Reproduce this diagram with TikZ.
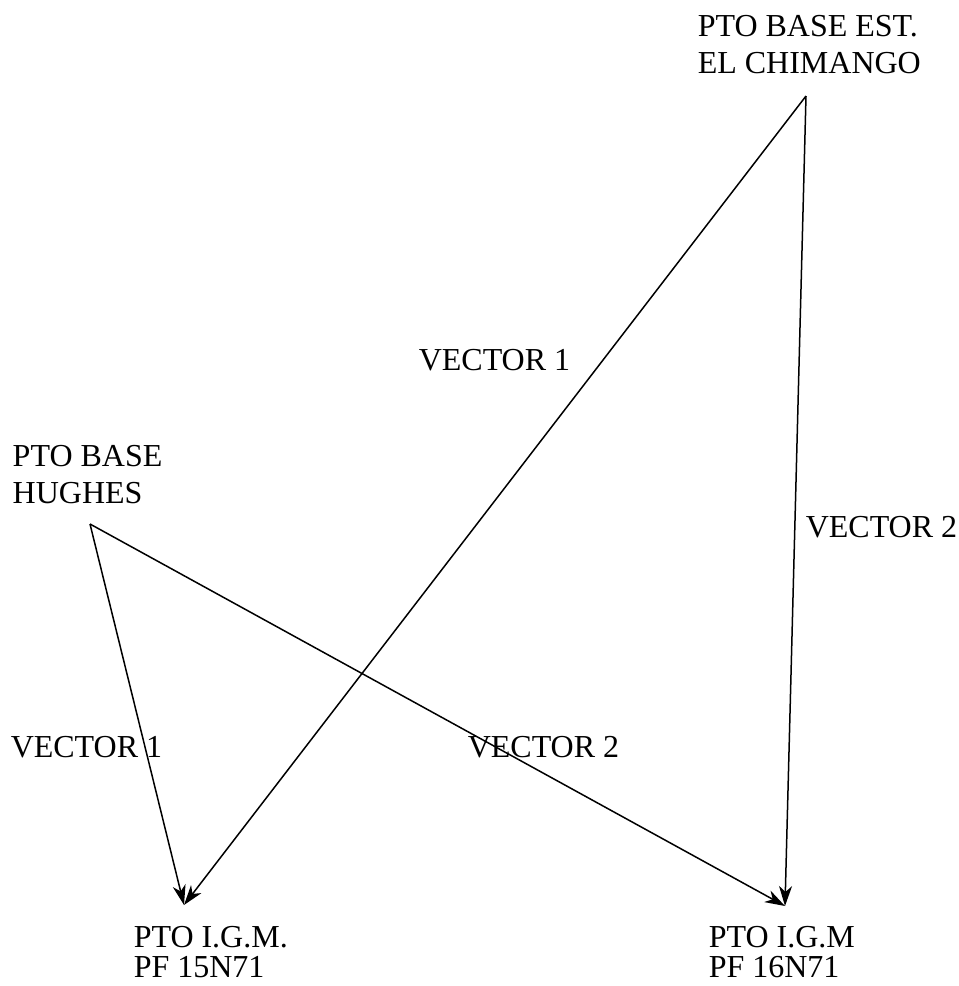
\documentclass[tikz,border=0pt]{standalone}
\usepackage{fontspec}
\setmainfont{Liberation Serif}
\usetikzlibrary{arrows.meta}
\tikzset{lbl/.style={font=\fontsize{16}{18.5}\selectfont, inner sep=0pt, align=left},
  lblb/.style={lbl, font=\fontsize{16}{15}\selectfont}}
\begin{document}
\begin{tikzpicture}[x=.5pt, y=-.5pt, >={Stealth[length=10pt, width=6.5pt, inset=3pt]}, line width=.75pt]
  \useasboundingbox (0,0) rectangle (959,986);
  % stations
  \coordinate (chim) at (806,96);
  \coordinate (hugh) at (90,524);
  \coordinate (pf15) at (184,905);
  \coordinate (pf16) at (785,906);

  \node[lbl, anchor=north west] (chimlbl) at (697,15) {PTO BASE EST.\\EL CHIMANGO};
  \node[lbl, anchor=north west] (hughlbl) at (12,445) {PTO BASE\\HUGHES};
  \node[lblb, anchor=north west] (pf15lbl) at (133,926) {PTO I.G.M.\\PF 15N71};
  \node[lblb, anchor=north west] (pf16lbl) at (708,926) {PTO I.G.M\\PF 16N71};

  % vectors
  \draw[->] (chim)--(pf15);
  \draw[->] (chim)--(pf16);
  \draw[->] (hugh)--(pf15);
  \draw[->] (hugh)--(pf16);

  \node[lbl, anchor=west] (v1a) at (418,360) {VECTOR 1};
  \node[lbl, anchor=west] (v2a) at (805,527) {VECTOR 2};
  \node[lbl, anchor=west] (v1b) at (10,747) {VECTOR 1};
  \node[lbl, anchor=west] (v2b) at (467,747) {VECTOR 2};
\end{tikzpicture}
\end{document}
